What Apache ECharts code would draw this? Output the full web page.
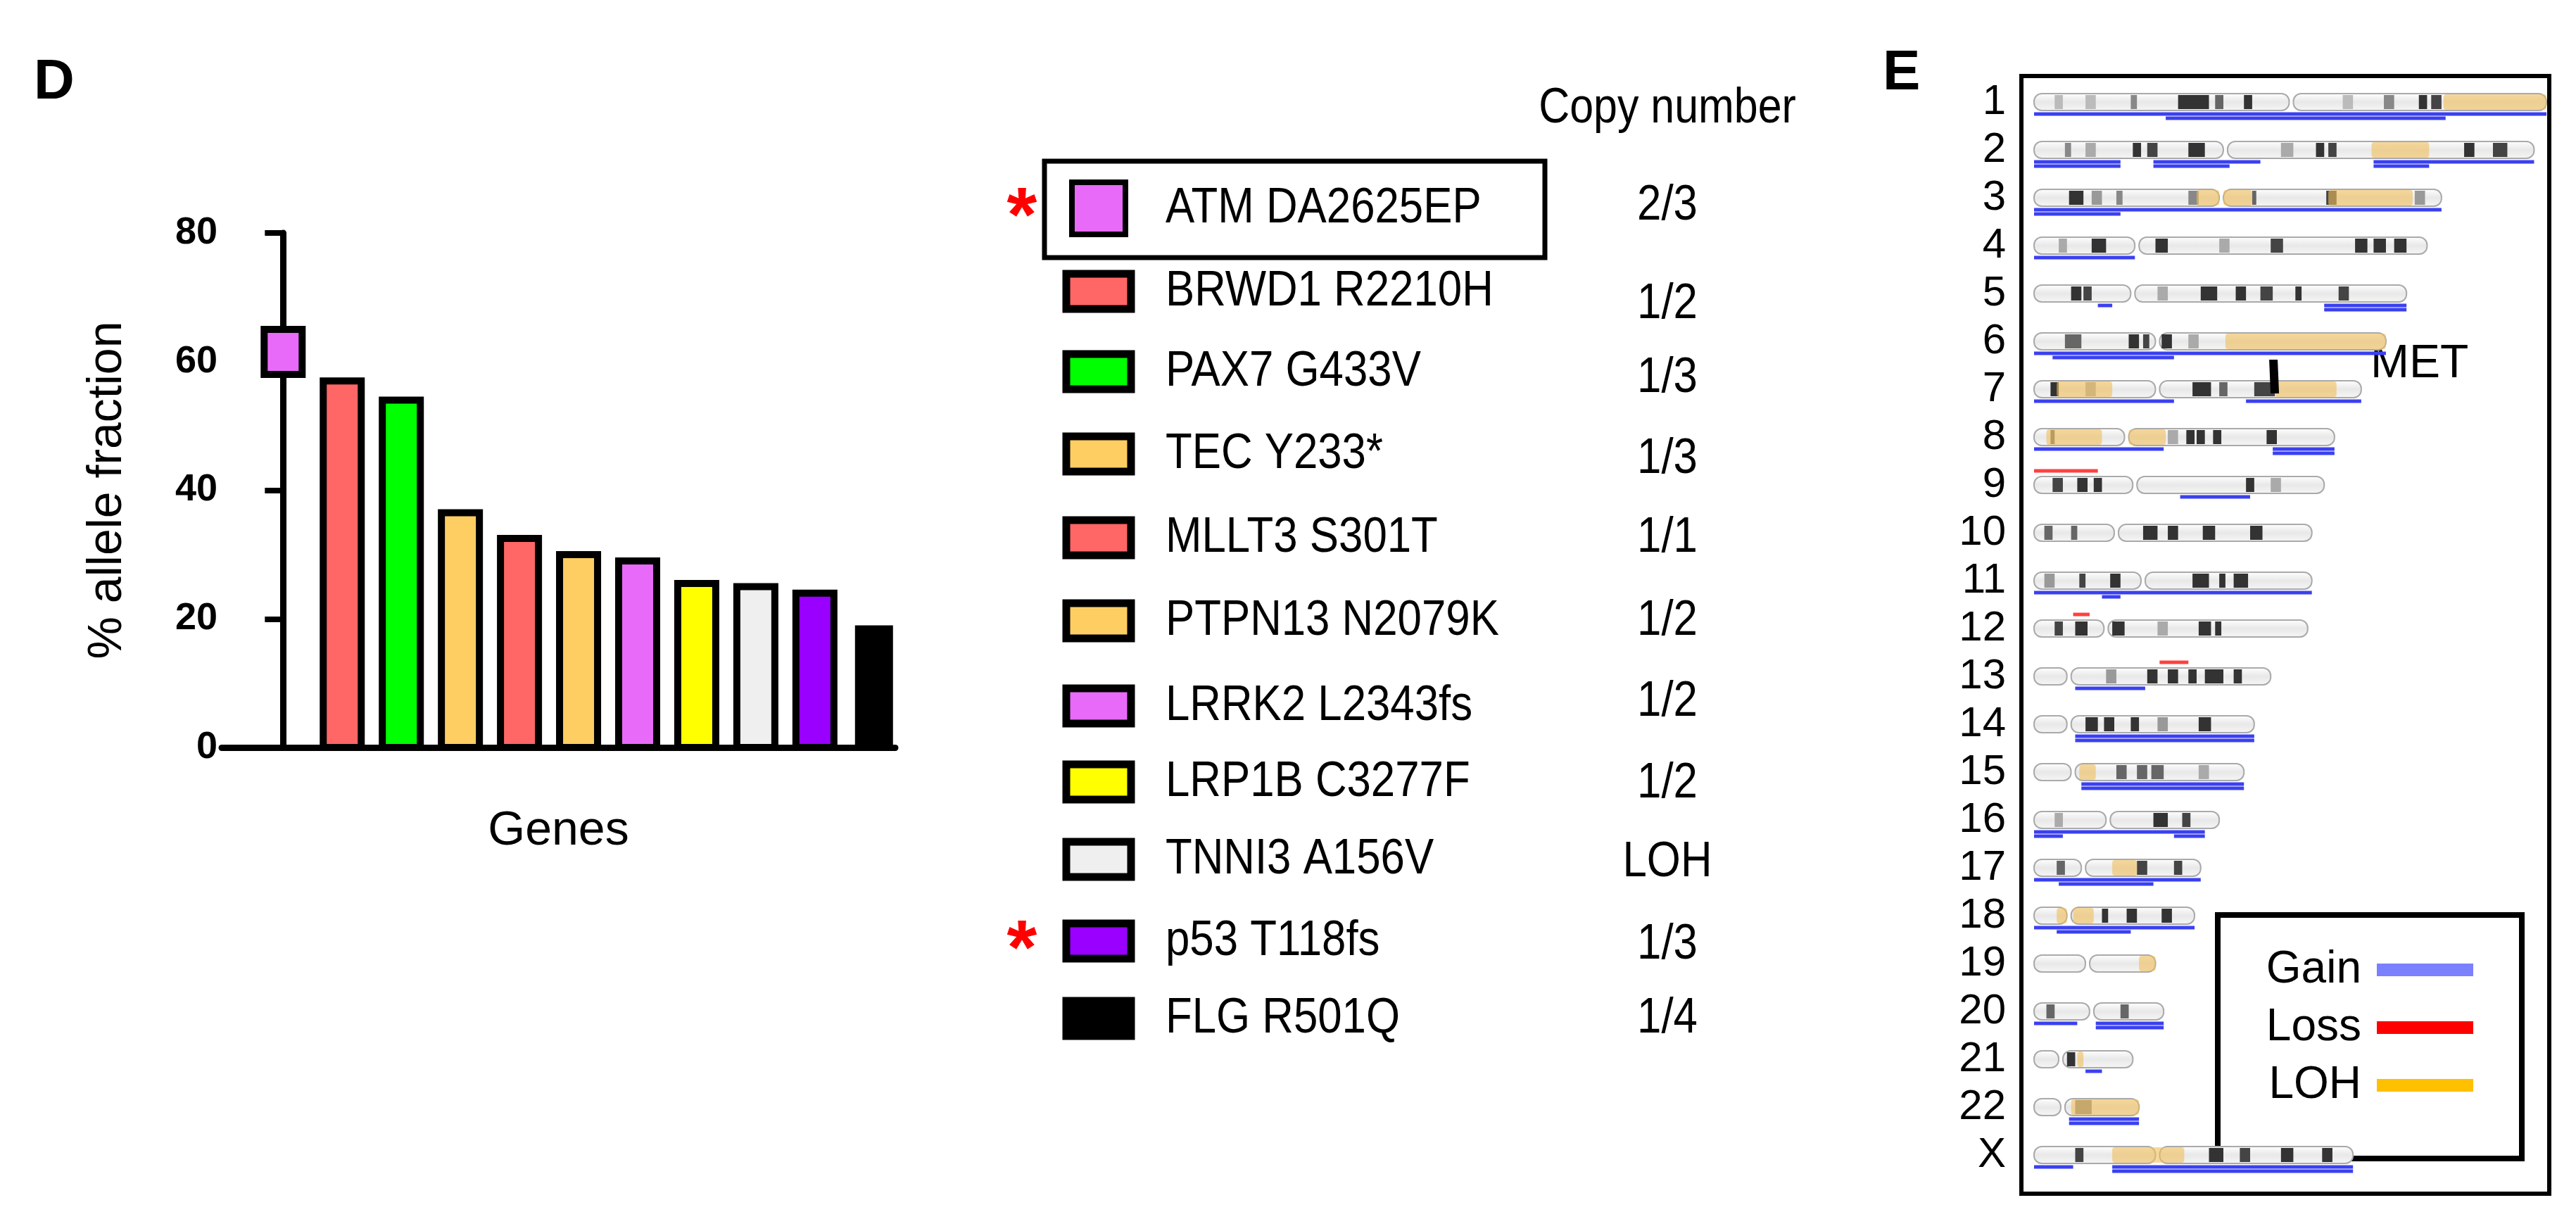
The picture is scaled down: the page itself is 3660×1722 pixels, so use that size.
<!DOCTYPE html>
<html>
<head>
<meta charset="utf-8">
<script src="https://cdn.jsdelivr.net/npm/echarts@6/dist/echarts.min.js"></script>
<style>html,body{margin:0;background:#fff}#chart{width:3660px;height:1722px}</style>
</head>
<body>
<div id="chart"></div>
<script>
// Panel D data
var genes = ['ATM DA2625EP', 'BRWD1 R2210H', 'PAX7 G433V', 'TEC Y233*', 'MLLT3 S301T', 'PTPN13 N2079K',
  'LRRK2 L2343fs', 'LRP1B C3277F', 'TNNI3 A156V', 'p53 T118fs', 'FLG R501Q'];
var barLow = [58, 0, 0, 0, 0, 0, 0, 0, 0, 0, 0];
var barHigh = [65, 57, 54, 36.5, 32.5, 30, 29, 25.5, 25, 24, 19];
var barColors = ['#E86AF9', '#FF6666', '#00FF00', '#FFCE63', '#FF6666', '#FFCE63', '#E86AF9', '#FFFF00', '#EFEFEF', '#9900FF', '#000000'];
var copyNumber = ['2/3', '1/2', '1/3', '1/3', '1/1', '1/2', '1/2', '1/2', 'LOH', '1/3', '1/4'];
var starred = [0, 9];

// Panel E data (Mb)
var chroms = ['1','2','3','4','5','6','7','8','9','10','11','12','13','14','15','16','17','18','19','20','21','22','X'];
var chromLen = [249,243,198,191,181,171,159,146,141,135,135,133,115,107,102,90,81,78,59,63,48,51,155];
var centro = [125,93,91,50,48,60,60,45,49,40,53,35,17,17,19,36,24,17,26,28,13,14,60];
// bands: [chrom, start, end, shade]
var bands = [
  [0,70,85,'#333'],[0,88,92,'#666'],[0,102,106,'#333'],[0,47,50,'#888'],[0,187,191,'#333'],[0,193,198,'#444'],[0,170,175,'#888'],[0,10,14,'#bbb'],[0,25,30,'#bbb'],[0,150,155,'#bbb'],
  [1,48,52,'#333'],[1,55,60,'#444'],[1,75,83,'#333'],[1,137,141,'#333'],[1,143,147,'#444'],[1,209,214,'#333'],[1,223,230,'#444'],[1,15,18,'#888'],[1,25,30,'#aaa'],[1,120,126,'#aaa'],
  [2,17,24,'#333'],[2,40,43,'#888'],[2,75,80,'#888'],[2,106,108,'#666'],[2,142,147,'#444'],[2,28,33,'#999'],[2,185,190,'#999'],
  [3,28,35,'#333'],[3,59,65,'#333'],[3,115,121,'#444'],[3,156,162,'#333'],[3,165,171,'#333'],[3,175,181,'#333'],[3,12,16,'#aaa'],[3,90,95,'#aaa'],
  [4,18,23,'#333'],[4,24,28,'#444'],[4,81,89,'#333'],[4,98,103,'#333'],[4,110,116,'#444'],[4,127,130,'#333'],[4,148,153,'#444'],[4,60,65,'#aaa'],
  [5,15,23,'#666'],[5,46,51,'#333'],[5,53,56,'#444'],[5,62,67,'#333'],[5,75,80,'#aaa'],
  [6,8,12,'#333'],[6,77,86,'#333'],[6,90,94,'#666'],[6,107,117,'#444'],[6,25,30,'#aaa'],
  [7,8,10,'#666'],[7,74,78,'#333'],[7,79,83,'#333'],[7,87,91,'#333'],[7,113,118,'#333'],[7,65,70,'#aaa'],
  [8,9,14,'#444'],[8,21,26,'#333'],[8,29,33,'#333'],[8,103,107,'#333'],[8,115,120,'#aaa'],
  [9,5,9,'#666'],[9,18,21,'#666'],[9,53,60,'#333'],[9,65,70,'#333'],[9,82,88,'#333'],[9,105,111,'#333'],
  [10,22,25,'#444'],[10,37,42,'#333'],[10,77,85,'#333'],[10,90,93,'#333'],[10,97,104,'#333'],[10,5,10,'#999'],
  [11,10,14,'#444'],[11,20,26,'#333'],[11,38,44,'#333'],[11,80,86,'#333'],[11,88,91,'#333'],[11,60,65,'#aaa'],
  [12,55,60,'#333'],[12,65,70,'#333'],[12,75,79,'#333'],[12,83,92,'#333'],[12,97,101,'#333'],[12,35,40,'#999'],
  [13,25,31,'#333'],[13,34,39,'#333'],[13,47,51,'#333'],[13,80,86,'#333'],[13,60,65,'#999'],
  [14,40,45,'#666'],[14,50,55,'#666'],[14,57,63,'#666'],[14,80,85,'#aaa'],
  [15,58,65,'#333'],[15,72,76,'#444'],[15,10,14,'#aaa'],
  [16,11,15,'#666'],[16,50,55,'#444'],[16,68,72,'#444'],
  [17,33,36,'#333'],[17,45,50,'#333'],[17,62,67,'#333'],
  [19,6,10,'#666'],[19,42,46,'#666'],
  [20,16,20,'#333'],
  [21,20,28,'#888'],
  [22,20,24,'#444'],[22,85,92,'#333'],[22,100,105,'#444'],[22,120,126,'#333'],[22,140,145,'#333']
];
// LOH regions: [chrom, start, end]
var loh = [[0,199,249],[1,164,192],[2,79,90],[2,92,106],[2,143,184],[5,93,171],[6,11,38],[6,117,147],
  [7,6,33],[7,46,64],[14,22,30],[16,38,50],[17,11,16],[17,19,29],[18,51,59],[20,21,24],[21,18,51],[22,38,73]];
// copy-number lines: [chrom, start, end, type, level]  type 0 gain, 1 loss; level 0/1 below, -1 above
var segments = [
  [0,0,249,0,0],[0,64,200,0,1],
  [1,0,42,0,0],[1,58,110,0,0],[1,165,243,0,0],[1,0,42,0,1],[1,58,95,0,1],[1,165,192,0,1],
  [2,0,198,0,0],[2,0,42,0,1],
  [3,0,49,0,0],
  [4,31,38,0,0],[4,141,181,0,0],[4,141,181,0,1],
  [5,0,171,0,0],[5,9,68,0,1],
  [6,0,68,0,0],[6,103,159,0,0],
  [7,0,63,0,0],[7,116,146,0,0],[7,116,146,0,1],
  [8,0,31,1,-1],[8,71,105,0,0],
  [10,0,135,0,0],[10,33,42,0,1],
  [11,19,27,1,-1],
  [12,61,75,1,-1],[12,20,54,0,0],
  [13,20,107,0,0],[13,20,107,0,1],
  [14,23,102,0,0],[14,23,102,0,1],
  [15,0,83,0,0],[15,0,14,0,1],[15,68,83,0,1],
  [16,0,81,0,0],[16,12,58,0,1],
  [17,0,78,0,0],[17,11,47,0,1],
  [19,0,21,0,0],[19,30,63,0,0],[19,30,63,0,1],
  [20,25,33,0,0],
  [21,17,51,0,0],[21,17,51,0,1],
  [22,0,19,0,0],[22,38,155,0,0],[22,38,155,0,1]
];
var metPos = [6, 117];
var legendE = ['Gain', 'Loss', 'LOH'];
var legendEColors = ['#7B80FF', '#FF0000', '#FFC000'];

var chart = echarts.init(document.getElementById('chart'));
var FONT = 'Liberation Sans, Arial, sans-serif';

// narrow-looking text: Liberation Sans squeezed horizontally
function ntext(x, y, t, size, align) {
  return {type:'text', x:x, y:y, scaleX:0.87,
    style:{x:0, y:0, text:t, font:size + 'px ' + FONT, fill:'#000', align:align || 'left', verticalAlign:'middle'}};
}

// legend table (panel D)
var rowY = [296, 414, 528, 645, 764, 882, 1003, 1111, 1221, 1337, 1447];
var cnY = [292, 432, 537, 652, 764, 882, 997, 1113, 1225, 1342, 1447];
var graphics = [
  {type:'text', x: 48, y: 118, style:{text:'D', font:'bold 80px ' + FONT, fill:'#000', verticalAlign:'middle'}},
  {type:'text', x: 2675, y: 105, style:{text:'E', font:'bold 80px ' + FONT, fill:'#000', verticalAlign:'middle'}},
  ntext(2369, 155, 'Copy number', 70, 'center'),
  {type:'rect', shape:{x:1484, y:229, width:711, height:137}, style:{fill:'none', stroke:'#000', lineWidth:7}}
];
genes.forEach(function (g, i) {
  var first = i === 0;
  graphics.push({type:'rect', shape:{x: first ? 1523 : 1515, y: rowY[i] - (first ? 37 : 25), width: first ? 76 : 92, height: first ? 74 : 50},
    style:{fill:barColors[i], stroke:'#000', lineWidth: first ? 8 : 11}});
  graphics.push(ntext(1656, rowY[i], g, 71));
  graphics.push(ntext(2369, cnY[i], copyNumber[i], 71, 'center'));
});
starred.forEach(function (i) {
  graphics.push({type:'text', x:1452, y:rowY[i] + 16, style:{text:'*', font:'bold 110px ' + FONT, fill:'#FF0000', align:'center', verticalAlign:'middle'}});
});
// panel E frame, legend, MET
graphics.push({type:'rect', shape:{x:2872, y:108, width:750, height:1588}, style:{fill:'none', stroke:'#000', lineWidth:6}});
graphics.push({type:'rect', shape:{x:3151, y:1300, width:432, height:346}, style:{fill:'#fff', stroke:'#000', lineWidth:8}});
legendE.forEach(function (t, i) {
  var y = 1378 + i * 82;
  graphics.push({type:'text', x:3355, y:y, style:{text:t, font:'64px ' + FONT, fill:'#000', align:'right', verticalAlign:'middle'}});
  graphics.push({type:'rect', shape:{x:3377, y:y - 9, width:137, height:18}, style:{fill:legendEColors[i]}});
});
graphics.push({type:'text', x:3368, y:518, style:{text:'MET', font:'66px ' + FONT, fill:'#000', verticalAlign:'middle'}});

var option = {
  animation: false,
  graphic: graphics,
  grid: [
    {left: 315, top: 331, width: 957, height: 731},
    {left: 2890, top: 111, width: 728, height: 1564}
  ],
  xAxis: [
    {gridIndex: 0, type: 'value', min: -1.04, max: 10.36, name: 'Genes', nameLocation: 'middle', nameGap: 85,
      nameTextStyle: {fontSize: 68, fontFamily: FONT, color: '#000'},
      axisLine: {show: true, lineStyle: {color: '#000', width: 9}}, axisTick: {show: false},
      axisLabel: {show: false}, splitLine: {show: false}},
    {gridIndex: 1, type: 'value', min: 0, max: 249, show: false}
  ],
  yAxis: [
    {gridIndex: 0, type: 'value', min: 0, max: 80, interval: 20, name: '% allele fraction', nameLocation: 'middle', nameGap: 128,
      nameTextStyle: {fontSize: 68, fontFamily: FONT, color: '#000'},
      axisLine: {show: true, lineStyle: {color: '#000', width: 9}},
      axisTick: {show: true, length: 26, lineStyle: {color: '#000', width: 8}},
      axisLabel: {fontSize: 54, fontWeight: 'bold', fontFamily: FONT, color: '#000', margin: 6},
      splitLine: {show: false}},
    {gridIndex: 1, type: 'category', data: chroms, inverse: true,
      axisLine: {show: false}, axisTick: {show: false},
      axisLabel: {interval: 0, fontSize: 60, fontFamily: FONT, color: '#000', margin: 40, align: 'right'}}
  ],
  series: [
    {type: 'custom', xAxisIndex: 0, yAxisIndex: 0,
      data: barHigh.map(function (v, i) { return [i, barLow[i], v]; }),
      renderItem: function (params, api) {
        var i = api.value(0);
        var p0 = api.coord([i, api.value(1)]);
        var p1 = api.coord([i, api.value(2)]);
        var w = 54;
        var black = barColors[i] === '#000000';
        return {type: 'rect', shape: {x: p0[0] - w / 2, y: p1[1], width: w, height: p0[1] - p1[1]},
          style: {fill: barColors[i], stroke: '#000', lineWidth: black ? 0 : 10}};
      }},
    {type: 'custom', xAxisIndex: 1, yAxisIndex: 1,
      data: chromLen.map(function (l, i) { return [i, l, centro[i]]; }),
      renderItem: function (params, api) {
        var i = api.value(0);
        var a = api.coord([0, i]), c = api.coord([api.value(2), i]), e = api.coord([api.value(1), i]);
        var h = 24, y = a[1] - h / 2;
        var g = new echarts.graphic.LinearGradient(0, 0, 0, 1, [{offset: 0, color: '#ffffff'}, {offset: 0.5, color: '#e8e8e8'}, {offset: 1, color: '#f6f6f6'}]);
        return {type: 'group', children: [
          {type: 'rect', shape: {x: a[0], y: y, width: c[0] - a[0] - 3, height: h, r: 11}, style: {fill: g, stroke: '#aaa', lineWidth: 2}},
          {type: 'rect', shape: {x: c[0] + 3, y: y, width: e[0] - c[0] - 3, height: h, r: 11}, style: {fill: g, stroke: '#aaa', lineWidth: 2}}
        ]};
      }},
    {type: 'custom', xAxisIndex: 1, yAxisIndex: 1, data: bands,
      renderItem: function (params, api) {
        var i = api.value(0);
        var s = api.coord([api.value(1), i]), e = api.coord([api.value(2), i]);
        return {type: 'rect', shape: {x: s[0], y: s[1] - 10, width: e[0] - s[0], height: 20}, style: {fill: bands[params.dataIndex][3]}};
      }},
    {type: 'custom', xAxisIndex: 1, yAxisIndex: 1, data: loh,
      renderItem: function (params, api) {
        var i = api.value(0);
        var s = api.coord([api.value(1), i]), e = api.coord([api.value(2), i]);
        return {type: 'rect', shape: {x: s[0], y: s[1] - 11, width: e[0] - s[0], height: 22, r: 4}, style: {fill: 'rgba(240,190,90,0.6)'}};
      }},
    {type: 'custom', xAxisIndex: 1, yAxisIndex: 1, data: segments,
      renderItem: function (params, api) {
        var i = api.value(0);
        var s = api.coord([api.value(1), i]), e = api.coord([api.value(2), i]);
        var lvl = api.value(4);
        var y = lvl < 0 ? s[1] - 20 : s[1] + 17 + lvl * 6;
        return {type: 'rect', shape: {x: s[0], y: y - 2.5, width: e[0] - s[0], height: 5},
          style: {fill: api.value(3) === 1 ? '#FF4040' : '#3A40F0'}};
      }},
    {type: 'custom', xAxisIndex: 1, yAxisIndex: 1, data: [metPos],
      renderItem: function (params, api) {
        var p = api.coord([api.value(1), api.value(0)]);
        return {type: 'polygon', shape: {points: [[p[0] - 8, p[1] - 42], [p[0] + 4, p[1] - 42], [p[0] + 6, p[1] + 6], [p[0] - 6, p[1] + 6]]}, style: {fill: '#000'}};
      }}
  ]
};
chart.setOption(option);
</script>
</body>
</html>
